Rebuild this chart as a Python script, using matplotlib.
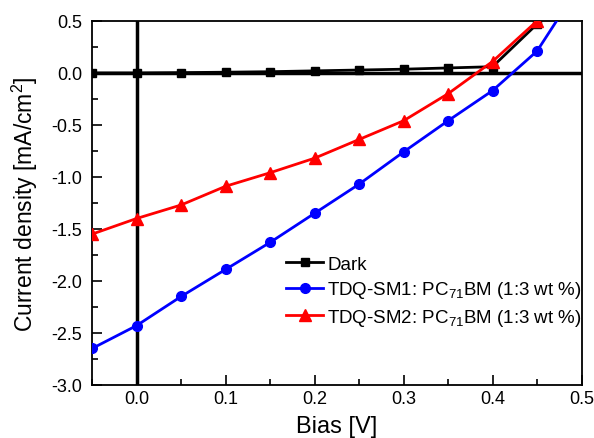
import numpy as np
import matplotlib
matplotlib.use("Agg")
import matplotlib.pyplot as plt
from matplotlib.ticker import MultipleLocator

plt.rcParams['font.family'] = ['Liberation Sans', 'DejaVu Sans']
plt.rcParams['mathtext.fontset'] = 'custom'
plt.rcParams['mathtext.rm'] = 'Liberation Sans'
plt.rcParams['mathtext.it'] = 'Liberation Sans'

bias = [-0.05, 0.0, 0.05, 0.1, 0.15, 0.2, 0.25, 0.3, 0.35, 0.4, 0.45]
dark = [0.0, 0.0, 0.003, 0.007, 0.012, 0.02, 0.028, 0.036, 0.048, 0.06, 0.47]
sm1 = [-2.65, -2.43, -2.15, -1.89, -1.63, -1.35, -1.07, -0.76, -0.46, -0.17, 0.21]
sm2 = [-1.55, -1.40, -1.27, -1.09, -0.96, -0.82, -0.64, -0.46, -0.20, 0.11, 0.50]
# last blue point lies above the frame, only the line shows
bias_ext = 0.5
sm1_ext = 0.87

fig = plt.figure(figsize=(5.94, 4.39), dpi=100)
ax = fig.add_axes([0.155, 0.121, 0.824, 0.829])

ax.axhline(0, color='black', lw=2.5, zorder=1)
ax.axvline(0, color='black', lw=2.5, zorder=1)

ax.plot(bias, dark, color='black', marker='s', ms=6, lw=2, label='Dark', zorder=3)
ax.plot(bias + [bias_ext], sm1 + [sm1_ext], color='blue', marker='o', ms=7, lw=2,
        label='TDQ-SM1: PC$_{71}$BM (1:3 wt %)', zorder=3)
ax.plot(bias, sm2, color='red', marker='^', ms=8, lw=2,
        label='TDQ-SM2: PC$_{71}$BM (1:3 wt %)', zorder=4)

ax.set_xlim(-0.05, 0.5)
ax.set_ylim(-3.0, 0.5)
ax.xaxis.set_major_locator(MultipleLocator(0.1))
ax.xaxis.set_minor_locator(MultipleLocator(0.05))
ax.yaxis.set_major_locator(MultipleLocator(0.5))
ax.yaxis.set_minor_locator(MultipleLocator(0.25))
ax.tick_params(which='both', direction='in', labelsize=13, top=False, right=False)
ax.tick_params(which='major', length=7, width=1.2)
ax.tick_params(which='minor', length=4, width=1.2)
ax.tick_params(axis='y', pad=7)
ax.xaxis.set_major_formatter(matplotlib.ticker.FormatStrFormatter('%.1f'))
ax.yaxis.set_major_formatter(matplotlib.ticker.FormatStrFormatter('%.1f'))
for s in ax.spines.values():
    s.set_linewidth(1.3)

ax.set_xlabel('Bias [V]', fontsize=17, labelpad=6)
ax.set_ylabel('Current density [mA/cm$^2$]', fontsize=16.5, labelpad=8)

ax.legend(loc='lower right', bbox_to_anchor=(1.035, 0.11), frameon=False, fontsize=13.5,
          handlelength=2.0, handletextpad=0.2, labelspacing=0.35)

fig.savefig('out.png', dpi=100)
